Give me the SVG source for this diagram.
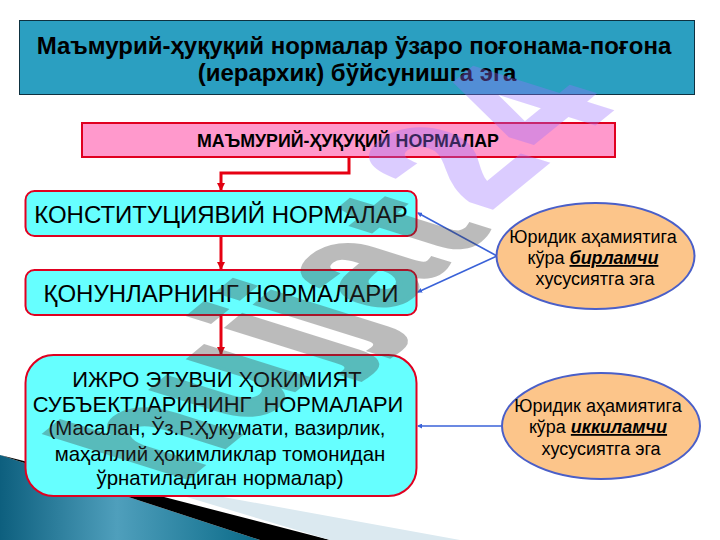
<svg xmlns="http://www.w3.org/2000/svg" width="720" height="540" viewBox="0 0 720 540">
<defs>
<linearGradient id="wedge" x1="0" y1="0" x2="1" y2="0"><stop offset="0" stop-color="#0d5f7e"/><stop offset="0.45" stop-color="#4f9fbc"/><stop offset="1" stop-color="#0a6a88"/></linearGradient>
<marker id="ar" markerWidth="8" markerHeight="8" refX="7" refY="4" orient="auto" markerUnits="userSpaceOnUse" viewBox="0 0 8 8"><path d="M0 0L8 4L0 8z" fill="#e00010"/></marker>
<marker id="ab" markerWidth="5" markerHeight="5" refX="4" refY="2.500" orient="auto" markerUnits="userSpaceOnUse" viewBox="0 0 5 5"><path d="M0 0L5 2.500L0 5z" fill="#3a62d8"/></marker>
</defs>
<style>
text{font-family:"Liberation Sans",Arial,sans-serif;fill:#000;text-anchor:middle}
.box{fill:#66ffff;stroke:#e00020;stroke-width:2}
.ell{fill:#fcc58a;stroke:#4a5fc8;stroke-width:2}
.r{fill:none;stroke:#e60012;stroke-width:3;marker-end:url(#ar)}
.b{fill:none;stroke:#3a62d8;stroke-width:1.600;marker-end:url(#ab)}
.e{font-size:18px}
.big{font-size:24px}
.mid{font-size:21.900px}
.sm{font-size:20.400px}
</style>
<rect width="720" height="540" fill="#fff"/>
<path d="M0 455L260 540H0z" fill="url(#wedge)"/>
<path d="M0 455L60 470L330 540H260z" fill="#000"/>
<path d="M130 480L460 540H330z" fill="#dbe9f0"/>
<g id="title"><rect x="19.500" y="20.500" width="675" height="74" fill="#2b9fc1" stroke="#0e3140" stroke-width="1"/>
<text x="354" y="54" font-size="24" font-weight="700">Маъмурий-ҳуқуқий нормалар ўзаро поғонама-поғона</text>
<text x="357" y="81" font-size="24" font-weight="700">(иерархик) бўйсунишга эга</text></g>
<g id="header"><rect x="82" y="123" width="533" height="34" fill="#ff99cc" stroke="#e00020" stroke-width="2"/>
<text x="348" y="147" font-size="17.800" font-weight="700">МАЪМУРИЙ-ҲУҚУҚИЙ НОРМАЛАР</text></g>
<g id="connectors">
<path class="r" d="M349 157V173H221V190"/>
<path class="r" d="M221 236V269"/>
<path class="r" d="M221 315V354"/>
<path class="b" d="M497 256L418 213"/>
<path class="b" d="M497 256L418 292"/>
<path class="b" d="M501 426H418"/>
</g>
<g id="n1"><rect class="box" x="25.500" y="191" width="391" height="45" rx="9"/><text class="big" x="221" y="223">КОНСТИТУЦИЯВИЙ НОРМАЛАР</text></g>
<g id="n2"><rect class="box" x="25.500" y="270" width="391" height="45" rx="9"/><text class="big" x="221" y="302">ҚОНУНЛАРНИНГ НОРМАЛАРИ</text></g>
<g id="n3"><rect class="box" x="25.500" y="355" width="391" height="141" rx="28"/>
<text class="mid" x="217" y="387">ИЖРО ЭТУВЧИ ҲОКИМИЯТ</text>
<text class="mid" x="218" y="412" xml:space="preserve">СУБЪЕКТЛАРИНИНГ  НОРМАЛАРИ</text>
<text class="sm" x="217" y="435">(Масалан, Ўз.Р.Ҳукумати, вазирлик,</text>
<text class="sm" x="220" y="461">маҳаллий ҳокимликлар томонидан</text>
<text class="sm" x="220" y="485">ўрнатиладиган нормалар)</text></g>
<g id="e1"><ellipse class="ell" cx="595.500" cy="256" rx="99" ry="53"/>
<text class="e" x="593" y="243">Юридик аҳамиятига</text>
<text class="e" x="593" y="264">кўра <tspan font-weight="700" font-style="italic" text-decoration="underline">бирламчи</tspan></text>
<text class="e" x="595" y="285">хусусиятга эга</text></g>
<g id="e2"><ellipse class="ell" cx="601" cy="426" rx="99" ry="53"/>
<text class="e" x="598" y="412">Юридик аҳамиятига</text>
<text class="e" x="598" y="433">кўра <tspan font-weight="700" font-style="italic" text-decoration="underline">иккиламчи</tspan></text>
<text class="e" x="601" y="455">хусусиятга эга</text></g>
<g id="watermark" transform="matrix(1.1 -0.9 1.94 0.61 179 484)" opacity="0.35">
<text x="0 63 131 157 189 250" y="0" font-weight="700" style="text-anchor:start;fill:#3f3f3f;stroke:#3f3f3f;stroke-width:3px;font-size:100px">hujjat</text>
<text x="298 362" y="-10" font-weight="700" style="text-anchor:start;fill:#9b70ff;stroke:#9b70ff;stroke-width:4px;font-size:100px">24</text>
</g>
</svg>
